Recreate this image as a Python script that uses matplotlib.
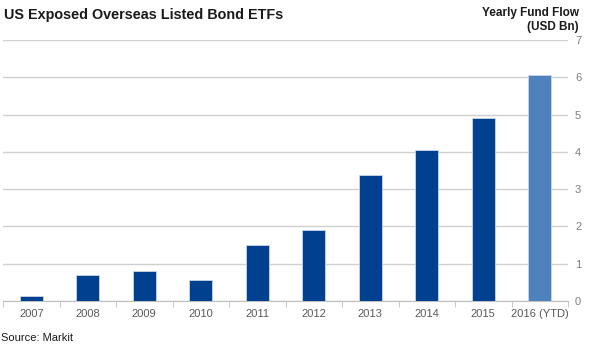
import numpy as np
import matplotlib
matplotlib.use("Agg")
import matplotlib.pyplot as plt

plt.rcParams['font.family'] = ['Liberation Sans', 'DejaVu Sans']

years = ['2007', '2008', '2009', '2010', '2011', '2012', '2013', '2014', '2015', '2016 (YTD)']
flows = [0.13, 0.70, 0.80, 0.56, 1.50, 1.90, 3.38, 4.05, 4.91, 6.06]
colors = ['#00408E'] * 9 + ['#4F81BD']

fig = plt.figure(figsize=(5.9, 3.51), dpi=100)
ax = fig.add_axes([3/590, 50/351, 565/590, 261/351])

x = np.arange(len(years))
ax.bar(x, flows, width=0.4, color=colors, edgecolor='#C8D6EA', linewidth=0.6, zorder=3)

ax.set_xlim(-0.5, len(years) - 0.5)
ax.set_ylim(0, 7)
ax.set_yticks(range(0, 8))
ax.yaxis.tick_right()
ax.grid(axis='y', color='#D0D0D0', linewidth=1, zorder=0)
ax.tick_params(axis='y', length=0, labelsize=8, labelcolor='#7F7F7F', pad=5)

ax.set_xticks(x)
ax.set_xticklabels(years)
ax.tick_params(axis='x', length=0, labelsize=8, labelcolor='#595959', pad=6)
ax.set_xticks(np.arange(-0.5, len(years) + 0.5, 1), minor=True)
ax.tick_params(axis='x', which='minor', length=4, color='#BFBFBF', direction='out')

for s in ['top', 'left', 'right']:
    ax.spines[s].set_visible(False)
ax.spines['bottom'].set_color('#BFBFBF')

fig.text(4/590, 1 - 15/351, 'US Exposed Overseas Listed Bond ETFs', fontsize=10.4, fontweight='bold',
         color='#1A1A1A', va='center', ha='left')
fig.text(579/590, 1 - 20/351, 'Yearly Fund Flow\n(USD Bn)', fontsize=8.5, fontweight='bold',
         color='#1A1A1A', va='center', ha='right', multialignment='right', linespacing=1.15)
fig.text(1/590, 1 - 338/351, 'Source: Markit', fontsize=8, color='#1A1A1A', va='center', ha='left')

fig.savefig('out.png', dpi=100)
